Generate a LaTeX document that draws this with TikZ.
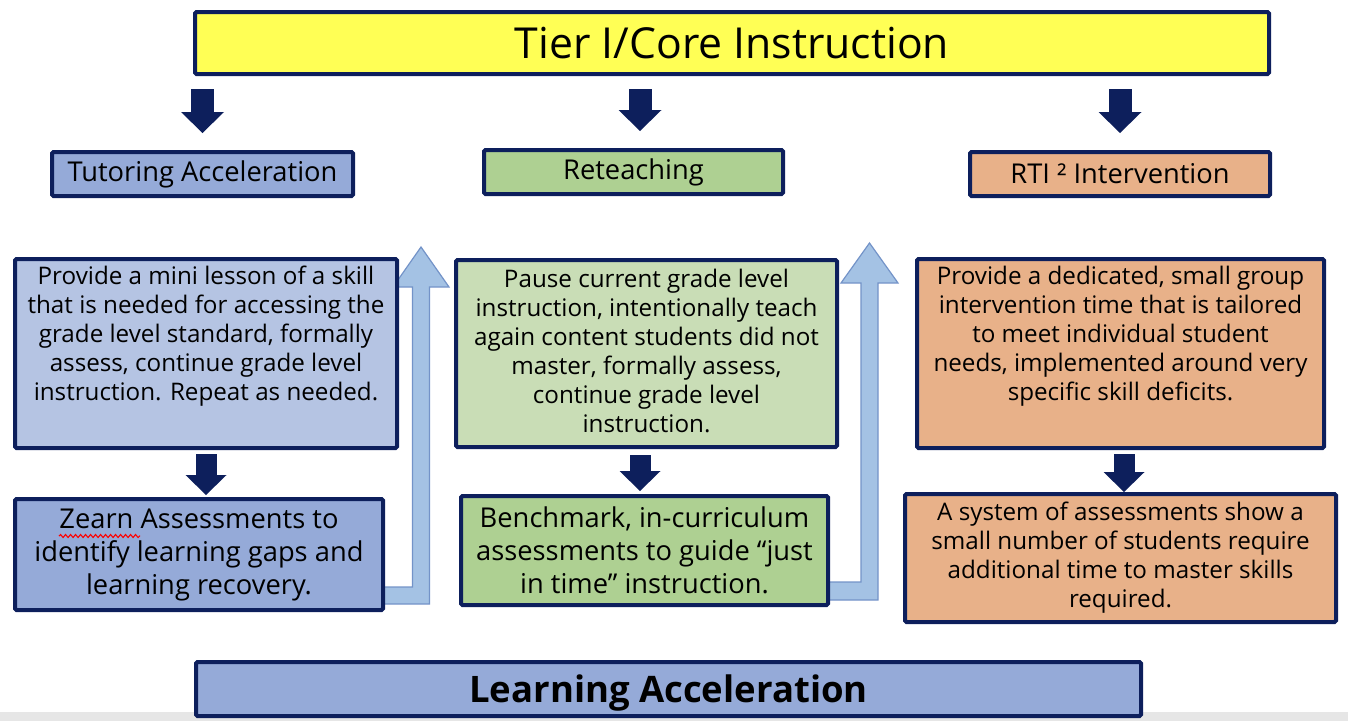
\documentclass[tikz,border=0pt]{standalone}
\usepackage{fontspec}
\setmainfont{Open Sans}
\usetikzlibrary{arrows.meta,decorations.pathmorphing}

\definecolor{navy}{HTML}{0D1F5C}
\definecolor{coreyellow}{HTML}{FFFF55}
\definecolor{tutfill}{HTML}{95AAD8}
\definecolor{tutlight}{HTML}{B5C4E3}
\definecolor{retfill}{HTML}{AED092}
\definecolor{retlight}{HTML}{C9DDB6}
\definecolor{rtifill}{HTML}{E8B189}
\definecolor{loopfill}{HTML}{A4C2E4}
\definecolor{loopline}{HTML}{7393C8}
\definecolor{stripgray}{HTML}{E6E6E6}

\tikzset{
  panel/.style={draw=navy, line width=4pt, rounded corners=1.5pt, inner sep=0pt,
    align=center, text=black},
  headtext/.style={font=\fontsize{27.3}{32}\selectfont},
  bodytext/.style={align=center, inner sep=0pt, text=black,
    font=\fontsize{24.2}{29}\selectfont},
  bigtext/.style={align=center, inner sep=0pt, text=black,
    font=\fontsize{27.3}{33}\selectfont},
  downbig/.style={draw=navy, line width=23pt,
    -{Triangle[width=43pt,length=21pt,line width=0pt]}},
  downsmall/.style={draw=navy, line width=21pt,
    -{Triangle[width=41pt,length=20pt,line width=0pt]}},
  loopback/.style={fill=loopfill, draw=loopline, line width=1.2pt, line join=miter},
}

\begin{document}
\begin{tikzpicture}[x=1pt,y=-1pt]
\useasboundingbox (0,0) rectangle (1348,721);
\fill[stripgray] (0,712) rectangle (1348,721);

% light-blue loop-back arrows (drawn first, boxes sit on top of them)
\draw[loopback] (375,587) -- (412.5,587) -- (412.5,287) -- (393,287) -- (421,247)
  -- (449,287) -- (429.5,287) -- (429.5,604) -- (375,604) -- cycle;
\draw[loopback] (820,582) -- (861,582) -- (861,283) -- (841,283) -- (869.5,243)
  -- (898,283) -- (878,283) -- (878,600) -- (820,600) -- cycle;

% header
\node[panel, fill=coreyellow, minimum width=1074pt, minimum height=62pt] (core)
  at (732,43) {\fontsize{42.7}{50}\selectfont Tier I/Core Instruction};

% tier headings
\node[panel, fill=tutfill, minimum width=301pt, minimum height=44pt, headtext] (tut)
  at (202.5,174) {Tutoring Acceleration};
\node[panel, fill=retfill, minimum width=299pt, minimum height=44pt, headtext] (ret)
  at (633.5,172) {Reteaching};
\node[panel, fill=rtifill, minimum width=300pt, minimum height=44pt, headtext] (rti)
  at (1120,174) {RTI ² Intervention};

% description boxes
\node[panel, fill=tutlight, minimum width=382pt, minimum height=189pt] (tutdesc)
  at (206,353.5) {};
\node[bodytext] (tutdesctext) at (206,336.5)
  {Provide a mini lesson of a skill\\that is needed for accessing the\\grade level standard, formally\\assess, continue grade level\\instruction. Repeat as needed.};

\node[panel, fill=retlight, minimum width=381pt, minimum height=187pt] (retdesc)
  at (646.5,353.5) {};
\node[bodytext] (retdesctext) at (646.5,350.5)
  {Pause current grade level\\instruction, intentionally teach\\again content students did not\\master, formally assess,\\continue grade level\\instruction.};

\node[panel, fill=rtifill, minimum width=407pt, minimum height=189pt] (rtidesc)
  at (1120.5,353.5) {};
\node[bodytext] (rtidesctext) at (1120.5,336.5)
  {Provide a dedicated, small group\\intervention time that is tailored\\to meet individual student\\needs, implemented around very\\specific skill deficits.};

% assessment boxes
\node[panel, fill=tutfill, minimum width=368pt, minimum height=111pt, bigtext] (zearn)
  at (199,554.5)
  {Zearn Assessments to\\identify learning gaps and\\learning recovery.};
\draw[red, line width=1.1pt, decorate,
  decoration={snake, amplitude=1.5pt, segment length=5pt}] (59,536) -- (140,536);

\node[panel, fill=retfill, minimum width=367pt, minimum height=109pt, bigtext] (bench)
  at (644.5,550.5)
  {Benchmark, in-curriculum\\assessments to guide “just\\in time” instruction.};

\node[panel, fill=rtifill, minimum width=431pt, minimum height=128pt, bodytext] (rtiassess)
  at (1120.5,558)
  {A system of assessments show a\\small number of students require\\additional time to master skills\\required.};

% footer
\node[panel, fill=tutfill, minimum width=945pt, minimum height=54pt] (learn)
  at (668.5,689) {};
\node[inner sep=0pt, text=black, font=\fontsize{36.5}{42}\selectfont\bfseries]
  (learntext) at (668.5,693) {Learning Acceleration};

% header to tier headings
\coordinate (retin) at ([xshift=6.5pt]ret.north);
\draw[downbig, shorten <=13pt, shorten >=17pt] (core.south -| tut.north) -- (tut.north);
\draw[downbig, shorten <=13pt, shorten >=17pt] (core.south -| retin) -- (retin);
\draw[downbig, shorten <=13pt, shorten >=17pt] (core.south -| rti.north) -- (rti.north);

% description to assessment
\coordinate (retdown) at ([xshift=-6.5pt]retdesc.south);
\draw[downsmall, shorten <=4pt, shorten >=2pt] (tutdesc.south) -- (tutdesc.south |- zearn.north);
\draw[downsmall, shorten <=6pt, shorten >=3pt] (retdown) -- (retdown |- bench.north);
\draw[downsmall, shorten <=4pt] ([xshift=3.5pt]rtidesc.south) -- ([xshift=3.5pt]rtidesc.south |- rtiassess.north);
\end{tikzpicture}
\end{document}
